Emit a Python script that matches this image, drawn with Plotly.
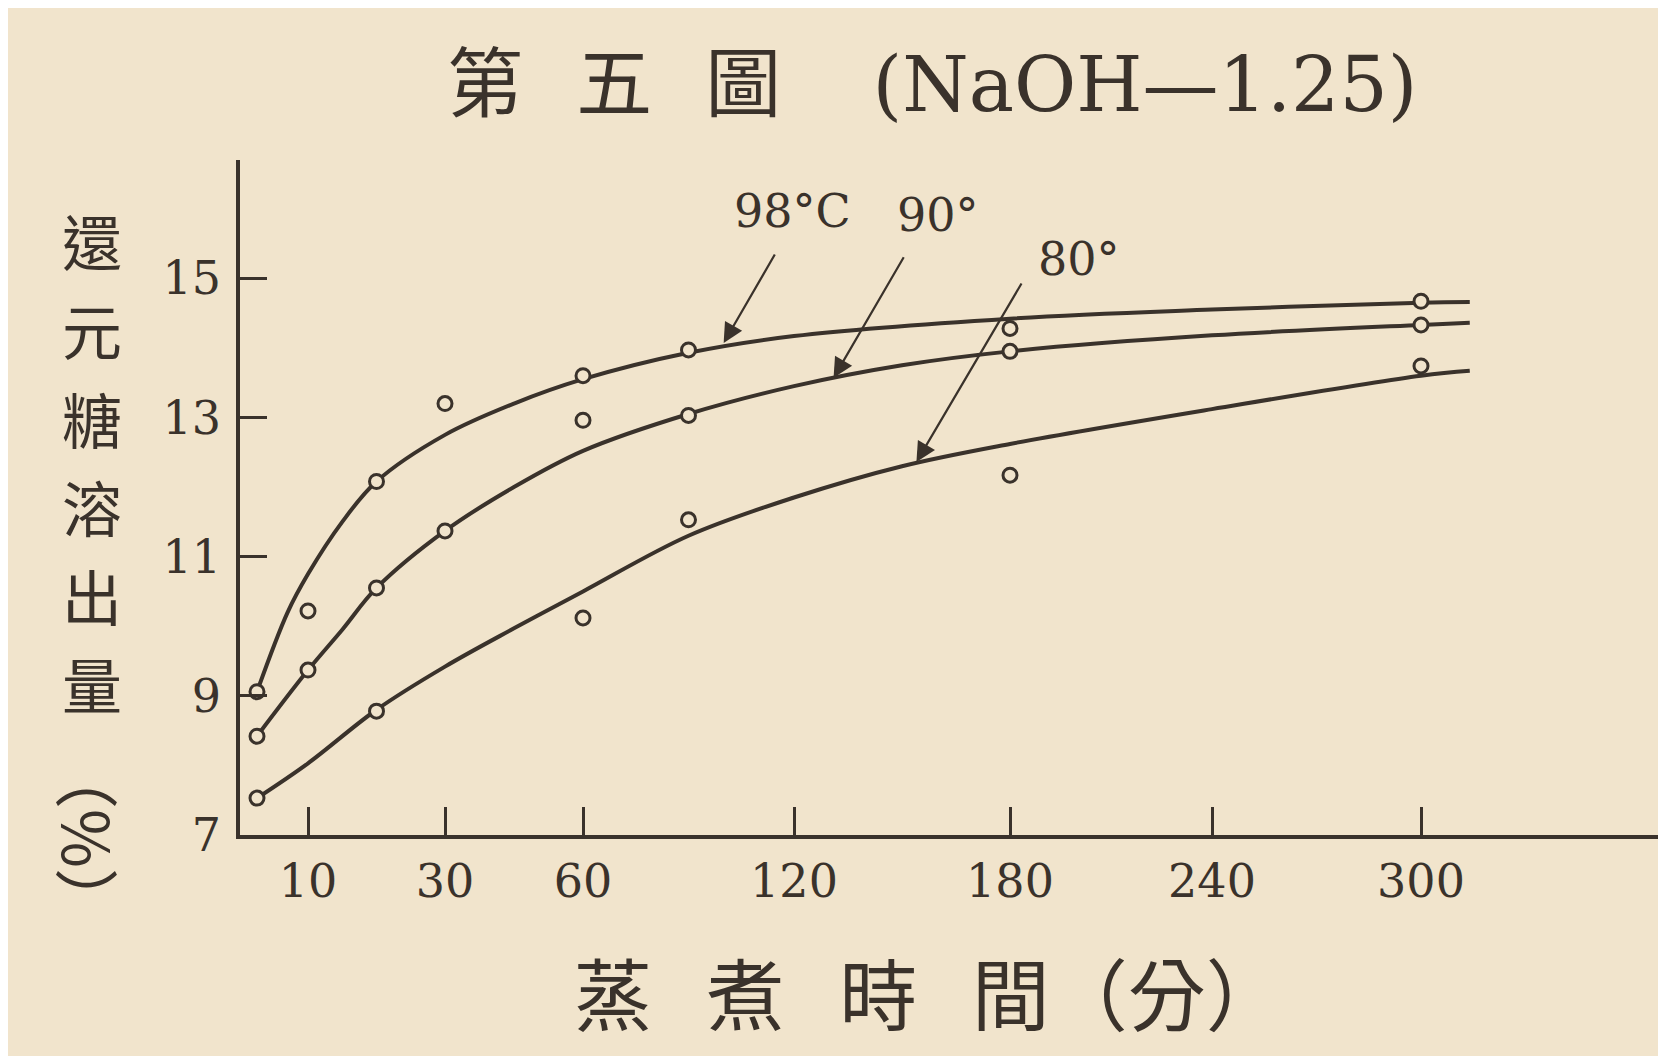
import numpy as np
import plotly.graph_objects as go

# ---- hand-drawn (non-uniform) time axis: minutes -> axis position ----
SCALE_MIN = [0, 5, 10, 30, 60, 120, 180, 240, 300, 360]
SCALE_POS = [0, 17, 68, 205, 343, 554, 770, 972, 1181, 1390]

TICK_MIN = [10, 30, 60, 120, 180, 240, 300]
TICK_TEXT = ["10", "30", "60", "120", "180", "240", "300"]
Y_TICKS = [7, 9, 11, 13, 15]
Y_TICK_TEXT = ["7", "9", "11", "13", "15"]

# ---- measured points (minutes, %) ----
PT_T_98 = [5, 10, 20, 30, 60, 90, 180, 300]
PT_Y_98 = [9.06, 10.22, 12.08, 13.2, 13.6, 13.97, 14.28, 14.67]
PT_T_90 = [5, 10, 20, 30, 60, 90, 180, 300]
PT_Y_90 = [8.42, 9.37, 10.55, 11.37, 12.96, 13.03, 13.95, 14.33]
PT_T_80 = [5, 20, 60, 90, 180, 300]
PT_Y_80 = [7.53, 8.78, 10.12, 11.53, 12.17, 13.74]

# ---- drawn smooth curves ----
CV_T_98 = [5, 8, 10, 15, 20, 30, 45, 60, 90, 120, 180, 240, 300, 314]
CV_Y_98 = [9.06, 10.2, 10.75, 11.5, 12.08, 12.75, 13.2, 13.55, 13.93, 14.17, 14.42, 14.55, 14.65, 14.66]
CV_T_90 = [5, 10, 15, 20, 30, 45, 60, 90, 120, 150, 180, 240, 300, 314]
CV_Y_90 = [8.42, 9.37, 9.95, 10.55, 11.37, 12.0, 12.52, 13.05, 13.45, 13.75, 13.95, 14.18, 14.33, 14.36]
CV_T_80 = [5, 10, 20, 30, 45, 60, 90, 120, 150, 180, 240, 300, 314]
CV_Y_80 = [7.53, 8.03, 8.8, 9.42, 9.97, 10.5, 11.3, 11.85, 12.3, 12.62, 13.12, 13.6, 13.67]

LABELS = ["98°C", "90°", "80°"]
ARROW_T = [100, 131, 154]
ARROW_Y = [14.07, 13.57, 12.36]

TITLE = "第\u2002\u2009五\u2002\u2009圖\u2003\u2009(NaOH—1.25)"
X_TITLE = "蒸\u2002\u2009煮\u2002\u2009時\u2002\u2009間（分）"
Y_TITLE_CHARS = ["還", "元", "糖", "溶", "出", "量"]
Y_TITLE_UNIT = "（%）"

BG = "#f1e4cc"
INK = "#3a322b"
SERIF = "DejaVu Serif, Noto Sans CJK TC, serif"
CJK = "Noto Sans CJK TC, Noto Sans CJK JP, sans-serif"

W, H = 1666, 1056
L, R, T, B = 232, 0, 152, 229
PW, PH = W - L - R, H - T - B
YMIN, YMAX = 7, 16.7


def pos(t):
    return np.interp(t, SCALE_MIN, SCALE_POS)


def px(x):
    return (x - L) / PW


def py(y):
    return (H - B - y) / PH


fig = go.Figure()

for ct, cy in [(CV_T_98, CV_Y_98), (CV_T_90, CV_Y_90), (CV_T_80, CV_Y_80)]:
    fig.add_trace(go.Scatter(
        x=pos(ct), y=cy, mode="lines",
        line=dict(color=INK, width=4, shape="spline", smoothing=1.0),
        showlegend=False, hoverinfo="skip"))

for pt, pyv in [(PT_T_98, PT_Y_98), (PT_T_90, PT_Y_90), (PT_T_80, PT_Y_80)]:
    fig.add_trace(go.Scatter(
        x=pos(pt), y=pyv, mode="markers",
        marker=dict(symbol="circle", size=14, color=BG,
                    line=dict(color=INK, width=3)),
        showlegend=False))

annotations = []
# series labels
label_xy = [(784, 203), (930, 207), (1071, 251)]
for text, (lx, ly) in zip(LABELS, label_xy):
    annotations.append(dict(text=text, xref="paper", yref="paper",
                            x=px(lx), y=py(ly), showarrow=False,
                            xanchor="center", yanchor="middle",
                            font=dict(family=SERIF, size=46, color=INK)))
# arrows from labels to curves
arrow_tail = [(52, -90), (71, -122), (106, -180)]
for t, yv, (ax, ay) in zip(ARROW_T, ARROW_Y, arrow_tail):
    annotations.append(dict(text="", x=float(pos(t)), y=yv, xref="x", yref="y",
                            showarrow=True, ax=ax, ay=ay, arrowhead=2,
                            arrowsize=1.8, arrowwidth=2.2, arrowcolor=INK,
                            standoff=0))
# title
annotations.append(dict(text=TITLE, xref="paper", yref="paper",
                        x=px(924), y=py(76), showarrow=False,
                        xanchor="center", yanchor="middle",
                        font=dict(family=SERIF, size=76, color=INK)))
# x title
annotations.append(dict(text=X_TITLE, xref="paper", yref="paper",
                        x=px(921), y=py(983), showarrow=False,
                        xanchor="center", yanchor="middle",
                        font=dict(family=CJK, size=78, color=INK)))
# y title (vertical, one character per annotation)
for i, ch in enumerate(Y_TITLE_CHARS):
    annotations.append(dict(text=ch, xref="paper", yref="paper",
                            x=px(84), y=py(232 + 88.5 * i), showarrow=False,
                            xanchor="center", yanchor="middle",
                            font=dict(family=CJK, size=60, color=INK)))
annotations.append(dict(text=Y_TITLE_UNIT, xref="paper", yref="paper",
                        x=px(82), y=py(830), showarrow=False, textangle=90,
                        xanchor="center", yanchor="middle",
                        font=dict(family=CJK, size=64, color=INK)))

fig.update_layout(
    width=W, height=H,
    margin=dict(l=L, r=R, t=T, b=B, pad=0),
    paper_bgcolor=BG, plot_bgcolor=BG,
    showlegend=False,
    annotations=annotations,
    xaxis=dict(range=[0, PW], showgrid=False, zeroline=False,
               showline=True, linecolor=INK, linewidth=3.5,
               ticks="inside", ticklen=28, tickwidth=2.5, tickcolor=INK,
               tickvals=list(pos(TICK_MIN)), ticktext=TICK_TEXT,
               tickfont=dict(family=SERIF, size=46, color=INK),
               ticklabelstandoff=3),
    yaxis=dict(range=[YMIN, YMAX], showgrid=False, zeroline=False,
               showline=True, linecolor=INK, linewidth=3.5,
               ticks="inside", ticklen=27, tickwidth=2.5, tickcolor=INK,
               tickvals=Y_TICKS, ticktext=Y_TICK_TEXT,
               tickfont=dict(family=SERIF, size=46, color=INK),
               ticklabelstandoff=6),
)

fig.write_html("out.html")
